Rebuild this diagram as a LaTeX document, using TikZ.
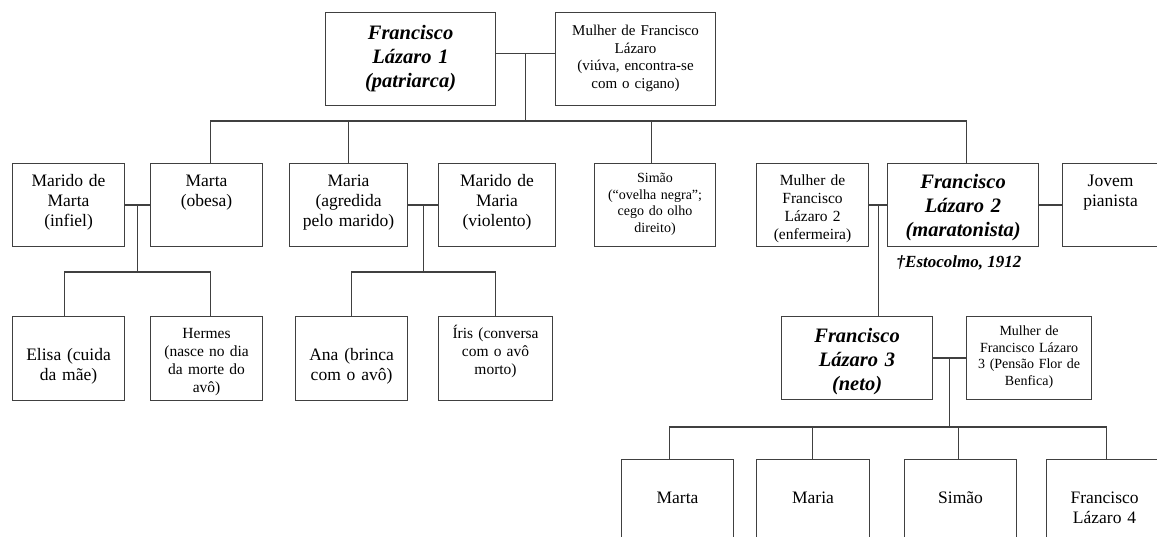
\documentclass[tikz,border=0pt]{standalone}
\usepackage{fontspec}
\setmainfont{Liberation Serif}
\usetikzlibrary{calc}

\begin{document}
\begin{tikzpicture}[x=1pt,y=-1pt,
    every node/.style={inner sep=0pt},
    pbox/.style n args={3}{draw=black!75,line width=1.1pt,anchor=north west,
      align=center,text width=#1pt,text height=#2pt,text depth=#3pt},
    txtbig/.style={font=\fontsize{17.5}{20}\selectfont},
    txtmid/.style={font=\fontsize{15.5}{18}\selectfont},
    txtsmall/.style={font=\fontsize{15}{17.5}\selectfont},
    txtnote/.style={font=\fontsize{14}{16.5}\selectfont},
    txthero/.style={font=\fontsize{20.5}{24}\selectfont\bfseries\itshape},
    link/.style={draw=black!75,line width=1.1pt}]
    \useasboundingbox (0,0) rectangle (1157,537);
    \fill[white] (0,0) rectangle (1157,537);
    \clip (0,0) rectangle (1157,537);

    \node[pbox={170}{26.5}{66.5},txthero] (fl1) at (325,12) {Francisco\\Lázaro 1\\(patriarca)};
    \node[pbox={160}{23}{70},txtsmall] (mfl1) at (555,12) {Mulher de Francisco\\Lázaro\\(viúva, encontra-se\\com o cigano)};

    \node[pbox={112}{23}{60},txtbig] (mmarta) at (12,163) {Marido de\\Marta\\(infiel)};
    \node[pbox={112}{23}{60},txtbig] (marta) at (150,163) {Marta\\(obesa)};
    \node[pbox={118}{23}{60},txtbig] (maria) at (289,163) {Maria\\(agredida\\pelo marido)};
    \node[pbox={117}{23}{60},txtbig] (mmaria) at (438,163) {Marido de\\Maria\\(violento)};
    \node[pbox={121}{19}{64},txtnote] (simao) at (594,163) {Simão\\(“ovelha negra”;\\cego do olho\\direito)};
    \node[pbox={112}{22}{61},txtmid] (mfl2) at (756,163) {Mulher de\\Francisco\\Lázaro 2\\(enfermeira)};
    \node[pbox={151}{24.5}{58.5},txthero] (fl2) at (887,163) {Francisco\\Lázaro 2\\(maratonista)};
    \node[pbox={96}{23}{60},txtbig] (pianista) at (1062,163) {Jovem\\pianista};
    \node[font=\fontsize{17}{20}\selectfont\bfseries\itshape,anchor=base] (obito) at (959,268) {†Estocolmo, 1912};

    \node[pbox={112}{43.5}{40.5},txtbig] (elisa) at (12,316) {Elisa (cuida\\da mãe)};
    \node[pbox={112}{22}{62},txtmid] (hermes) at (150,316) {Hermes\\(nasce no dia\\da morte do\\avô)};
    \node[pbox={112}{43.5}{40.5},txtbig] (ana) at (295,316) {Ana (brinca\\com o avô)};
    \node[pbox={114}{22}{62},txtmid] (iris) at (438,316) {Íris (conversa\\com o avô\\morto)};
    \node[pbox={151}{25.5}{57.5},txthero] (fl3) at (781,316) {Francisco\\Lázaro 3\\(neto)};
    \node[pbox={125}{19}{64},txtnote] (mfl3) at (966,316) {Mulher de\\Francisco Lázaro\\3 (Pensão Flor de\\Benfica)};

    \node[pbox={112}{44}{46},txtbig] (marta4) at (621,459) {Marta};
    \node[pbox={113}{44}{46},txtbig] (maria4) at (756,459) {Maria};
    \node[pbox={112}{44}{46},txtbig] (simao4) at (904,459) {Simão};
    \node[pbox={116}{44}{46},txtbig] (fl4) at (1046,459) {Francisco\\Lázaro 4};

    \draw[link] ([yshift=5.5pt]fl1.east) -- ([yshift=5.5pt]mfl1.west);
    \coordinate (fam1) at ($([yshift=5.5pt]fl1.east)!.5!([yshift=5.5pt]mfl1.west)$);
    \coordinate (bar1) at (fam1 |- 0,121);
    \draw[link] (fam1) -- (bar1);
    \foreach \kid/\dx in {marta/4,maria/0,simao/-4,fl2/3}
        \draw[link] (bar1) -| ([xshift=\dx pt]\kid.north);

    \draw[link] (mmarta.east) -- (marta.west);
    \coordinate (fam2) at ($(mmarta.east)!.5!(marta.west)$);
    \coordinate (bar2) at (fam2 |- 0,272);
    \draw[link] (fam2) -- (bar2);
    \foreach \kid/\dx in {elisa/-4,hermes/4}
        \draw[link] (bar2) -| ([xshift=\dx pt]\kid.north);

    \draw[link] (maria.east) -- (mmaria.west);
    \coordinate (fam3) at ($(maria.east)!.5!(mmaria.west)$);
    \coordinate (bar3) at (fam3 |- 0,272);
    \draw[link] (fam3) -- (bar3);
    \foreach \kid in {ana,iris}
        \draw[link] (bar3) -| (\kid.north);

    \draw[link] (mfl2.east) -- (fl2.west);
    \draw[link] (fl2.east) -- (pianista.west);
    \coordinate (fam4) at ($(mfl2.east)!.5!(fl2.west)$);
    \draw[link] (fam4) -- (fam4 |- fl3.north);

    \draw[link] (fl3.east) -- (mfl3.west);
    \coordinate (fam5) at ($(fl3.east)!.5!(mfl3.west)$);
    \coordinate (bar5) at (fam5 |- 0,427);
    \draw[link] (fam5) -- (bar5);
    \foreach \kid/\dx in {marta4/-8,maria4/-1,simao4/-2,fl4/2}
        \draw[link] (bar5) -| ([xshift=\dx pt]\kid.north);
\end{tikzpicture}
\end{document}
